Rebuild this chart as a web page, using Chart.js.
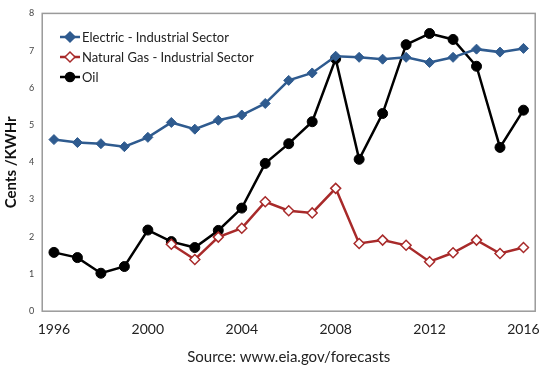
<!DOCTYPE html>
<html>
<head>
<meta charset="utf-8">
<script src="https://cdn.jsdelivr.net/npm/chart.js@4/dist/chart.umd.min.js"></script>
<style>
html,body{margin:0;padding:0;background:#fff;}
#wrap{position:relative;width:550px;height:368px;}
</style>
</head>
<body>
<div id="wrap"><canvas id="c" width="550" height="368"></canvas></div>
<script>
const years = ['1996','1997','1998','1999','2000','2001','2002','2003','2004','2005','2006','2007','2008','2009','2010','2011','2012','2013','2014','2015','2016'];
const electric = [4.61,4.53,4.50,4.42,4.67,5.07,4.89,5.13,5.27,5.58,6.20,6.40,6.85,6.82,6.77,6.82,6.68,6.82,7.04,6.96,7.06];
const naturalGas = [null,null,null,null,null,1.80,1.39,1.99,2.23,2.94,2.70,2.64,3.30,1.82,1.91,1.77,1.33,1.57,1.91,1.55,1.71];
const oil = [1.58,1.44,1.02,1.20,2.18,1.87,1.71,2.17,2.77,3.97,4.50,5.09,6.78,4.08,5.31,7.16,7.46,7.30,6.58,4.40,5.40];
const yTicks = [0,1,2,3,4,5,6,7,8];
const legendLabels = ['Electric - Industrial Sector','Natural Gas - Industrial Sector','Oil'];
const yTitle = 'Cents /KWHr';
const sourceText = 'Source: www.eia.gov/forecasts';

const BLUE = '#2f5b8f', RED = '#a82a2a', BLACK = '#000000';
const FONT = 'Lato, "Liberation Sans", sans-serif';

const frame = {
  id: 'frame',
  afterDraw(chart) {
    const {ctx, chartArea: a} = chart;
    ctx.save();
    ctx.strokeStyle = '#9a9a9a';
    ctx.lineWidth = 1.5;
    ctx.strokeRect(a.left, a.top, a.right - a.left, a.bottom - a.top);
    const items = [
      {c: BLUE, style: 'rectRot', fill: BLUE},
      {c: RED, style: 'rectRot', fill: '#ffffff'},
      {c: BLACK, style: 'circle', fill: BLACK}
    ];
    ctx.font = '13px ' + FONT;
    ctx.textBaseline = 'middle';
    items.forEach((it, i) => {
      const y = 37 + i * 20;
      const x0 = 60, x1 = 80;
      ctx.strokeStyle = it.c; ctx.lineWidth = 2.5;
      ctx.beginPath(); ctx.moveTo(x0, y); ctx.lineTo(x1, y); ctx.stroke();
      ctx.fillStyle = it.fill; ctx.strokeStyle = it.c; ctx.lineWidth = 1.5;
      ctx.beginPath();
      if (it.style === 'circle') { ctx.arc(70, y, 4.5, 0, Math.PI * 2); }
      else { ctx.moveTo(70, y - 5); ctx.lineTo(75, y); ctx.lineTo(70, y + 5); ctx.lineTo(65, y); ctx.closePath(); }
      ctx.fill(); ctx.stroke();
      ctx.fillStyle = '#222';
      ctx.fillText(legendLabels[i], 82, y + 1);
    });
    ctx.restore();
  }
};

new Chart(document.getElementById('c'), {
  type: 'line',
  data: {
    labels: years,
    datasets: [
      {label: legendLabels[0], data: electric, borderColor: BLUE, backgroundColor: BLUE, borderWidth: 2.5,
       pointStyle: 'rectRot', pointRadius: 5, pointBorderWidth: 1, pointBackgroundColor: BLUE, pointBorderColor: BLUE, tension: 0},
      {label: legendLabels[1], data: naturalGas, borderColor: RED, backgroundColor: '#fff', borderWidth: 2.5,
       pointStyle: 'rectRot', pointRadius: 5, pointBorderWidth: 1.5, pointBackgroundColor: '#ffffff', pointBorderColor: RED, tension: 0},
      {label: legendLabels[2], data: oil, borderColor: BLACK, backgroundColor: BLACK, borderWidth: 2.5,
       pointStyle: 'circle', pointRadius: 5, pointBorderWidth: 1, pointBackgroundColor: BLACK, pointBorderColor: BLACK, tension: 0}
    ]
  },
  options: {
    responsive: false,
    animation: false,
    layout: {padding: {top: 11, right: 12, left: 0, bottom: 2}},
    plugins: {legend: {display: false}, tooltip: {enabled: false}},
    scales: {
      x: {
        offset: true,
        grid: {display: false, drawTicks: false},
        border: {display: false},
        ticks: {
          autoSkip: false, maxRotation: 0, padding: 10, color: '#222',
          font: {family: FONT, size: 14},
          callback: function(v, i) { return i % 4 === 0 ? years[i] : ''; }
        },
        title: {display: true, text: sourceText, color: '#222', font: {family: FONT, size: 15}, padding: {top: 0, bottom: 0}}
      },
      y: {
        min: 0, max: 8,
        afterBuildTicks: (s) => { s.ticks = yTicks.map(v => ({value: v})); },
        grid: {display: false, drawTicks: false},
        border: {display: false},
        ticks: {padding: 8, color: '#444', font: {family: FONT, size: 9}},
        title: {display: true, text: yTitle, color: '#111', font: {family: FONT, size: 15, weight: 'bold'}, padding: {top: 2, bottom: 1}}
      }
    }
  },
  plugins: [frame]
});
</script>
</body>
</html>
